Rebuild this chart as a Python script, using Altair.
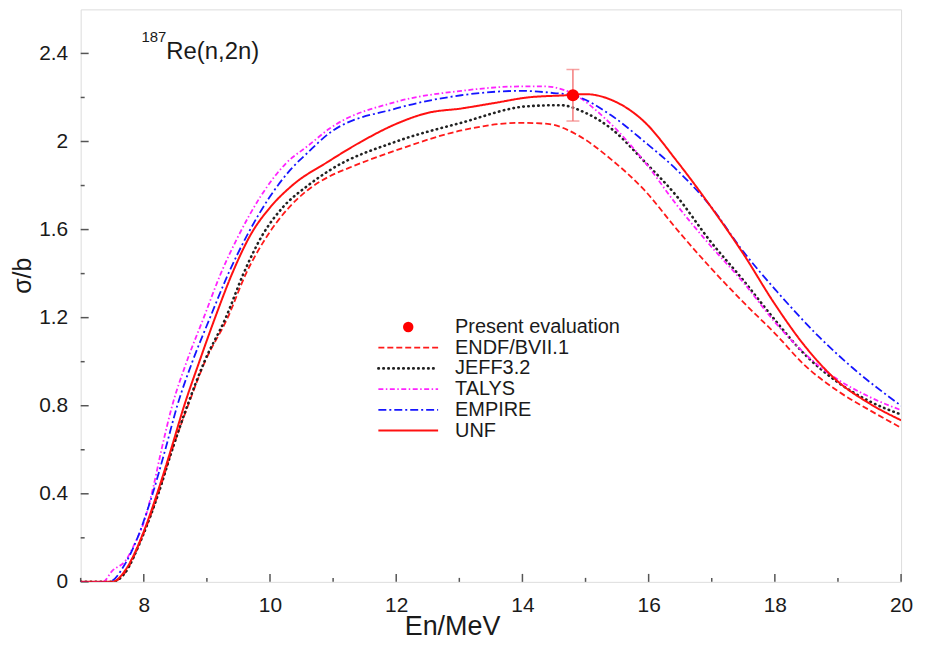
import altair as alt
import pandas as pd

# ---------------- data ----------------
E_ENDF = [7.0, 7.5, 7.7, 7.97, 8.23, 8.45, 8.7, 8.97, 9.33, 9.62, 9.93, 10.3, 10.6, 10.93, 11.25, 12.0, 13.03, 13.97, 14.4, 14.87, 15.4, 15.93, 16.45, 16.97, 17.5, 18.03, 18.45, 18.98, 19.5, 20.0]
S_ENDF = [0.0, 0.0, 0.04, 0.2, 0.4, 0.6, 0.8, 1.0, 1.2, 1.4, 1.56, 1.70, 1.78, 1.84, 1.88, 1.96, 2.05, 2.085, 2.08, 2.03, 1.92, 1.78, 1.60, 1.43, 1.27, 1.12, 0.99, 0.87, 0.78, 0.70]

E_JEFF = [7.0, 7.5, 7.7, 7.97, 8.23, 8.45, 8.69, 8.96, 9.3, 9.58, 9.87, 10.2, 10.6, 10.95, 12.0, 13.03, 14.08, 14.6, 15.0, 15.4, 15.93, 16.45, 16.97, 17.5, 18.0, 18.45, 18.98, 19.5, 20.0]
S_JEFF = [0.0, 0.0, 0.04, 0.2, 0.4, 0.6, 0.8, 1.0, 1.2, 1.4, 1.57, 1.70, 1.80, 1.87, 2.0, 2.085, 2.16, 2.165, 2.13, 2.06, 1.91, 1.75, 1.55, 1.37, 1.19, 1.04, 0.91, 0.82, 0.76]

E_TALYS = [7.0, 7.35, 7.5, 7.72, 7.85, 8.0, 8.15, 8.28, 8.45, 8.68, 8.95, 9.22, 9.48, 9.85, 10.25, 10.6, 10.95, 12.0, 13.03, 13.97, 14.35, 14.7, 15.4, 15.93, 16.45, 16.97, 17.5, 18.0, 18.7, 19.5, 20.0]
S_TALYS = [0.0, 0.0, 0.05, 0.10, 0.17, 0.27, 0.43, 0.6, 0.8, 1.0, 1.2, 1.4, 1.56, 1.75, 1.90, 1.98, 2.06, 2.18, 2.23, 2.25, 2.25, 2.23, 2.08, 1.91, 1.71, 1.53, 1.36, 1.18, 0.98, 0.84, 0.78]

E_EMPIRE = [7.0, 7.45, 7.7, 7.9, 8.14, 8.34, 8.53, 8.77, 9.05, 9.34, 9.63, 10.0, 10.35, 10.6, 10.95, 12.0, 13.03, 13.97, 14.5, 14.8, 15.4, 15.93, 16.45, 16.97, 17.5, 18.03, 18.71, 19.24, 20.0]
S_EMPIRE = [0.0, 0.0, 0.08, 0.2, 0.4, 0.6, 0.8, 1.0, 1.2, 1.4, 1.57, 1.75, 1.88, 1.95, 2.04, 2.15, 2.21, 2.23, 2.22, 2.21, 2.12, 2.0, 1.87, 1.71, 1.50, 1.32, 1.11, 0.97, 0.80]

E_UNF = [7.0, 7.5, 7.7, 7.96, 8.21, 8.43, 8.64, 8.88, 9.13, 9.4, 9.7, 10.0, 10.35, 10.93, 11.45, 12.0, 12.5, 13.03, 13.56, 14.08, 14.7, 15.0, 15.4, 15.93, 16.45, 16.97, 17.5, 17.98, 18.45, 18.98, 19.5, 20.0]
S_UNF = [0.0, 0.0, 0.05, 0.2, 0.4, 0.6, 0.8, 1.0, 1.2, 1.4, 1.58, 1.70, 1.80, 1.91, 2.0, 2.08, 2.13, 2.15, 2.175, 2.2, 2.21, 2.215, 2.19, 2.09, 1.91, 1.71, 1.49, 1.27, 1.08, 0.915, 0.81, 0.734]

EVAL_E = [14.8]
EVAL_S = [2.21]
EVAL_ERR = [0.117]

SERIES = ["ENDF/BVII.1", "JEFF3.2", "TALYS", "EMPIRE", "UNF"]
LEGEND_POINT = "Present evaluation"
ANNOT_SUP = "187"
ANNOT_MAIN = "Re(n,2n)"

X_MAJOR = [8, 10, 12, 14, 16, 18, 20]
X_MINOR = [7, 9, 11, 13, 15, 17, 19]
Y_MAJOR = [0, 0.4, 0.8, 1.2, 1.6, 2.0, 2.4]
Y_MINOR = [0.2, 0.6, 1.0, 1.4, 1.8, 2.2]

# ---------------- styles ----------------
STYLE = {
    "ENDF/BVII.1": dict(color="#ff1a1a", dash=[6, 3], width=1.8, cap="butt"),
    "JEFF3.2": dict(color="#222222", dash=[0.5, 4.5], width=2.6, cap="round"),
    "TALYS": dict(color="#ff22ff", dash=[5, 2.5, 1.5, 2.5], width=1.8, cap="butt"),
    "EMPIRE": dict(color="#1515ff", dash=[8, 3, 2, 3], width=1.8, cap="butt"),
    "UNF": dict(color="#ff1010", dash=[1, 0], width=2.0, cap="butt"),
}
DATA = {
    "ENDF/BVII.1": (E_ENDF, S_ENDF),
    "JEFF3.2": (E_JEFF, S_JEFF),
    "TALYS": (E_TALYS, S_TALYS),
    "EMPIRE": (E_EMPIRE, S_EMPIRE),
    "UNF": (E_UNF, S_UNF),
}

W, H = 824, 575
FONT = "Liberation Sans"
TXT = "#1a1a1a"

xs = alt.Scale(domain=[7, 20], nice=False, zero=False)
ys = alt.Scale(domain=[0, 2.6], nice=False, zero=False)

x_axis = alt.Axis(values=X_MAJOR, ticks=False, domain=False, grid=False, format="~g",
                  labelFontSize=21, labelPadding=13, labelFont=FONT, labelColor=TXT,
                  title="En/MeV", titleFontSize=27, titleFont=FONT, titleFontWeight="normal",
                  titleColor=TXT, titleX=373, titleY=53, titleAlign="center",
                  titleBaseline="alphabetic", labelFlush=False)
y_axis = alt.Axis(values=Y_MAJOR, ticks=False, domain=False, grid=False, format="~g",
                  labelFontSize=21, labelPadding=13, labelFont=FONT, labelColor=TXT,
                  title="σ/b", titleFontSize=25, titleFont=FONT, titleFontWeight="normal",
                  titleColor=TXT, titleX=-58, titleY=267, titleAlign="center",
                  titleBaseline="middle", labelFlush=False)

layers = []

# base (carries axes)
base_df = pd.DataFrame({"E": E_UNF, "sigma": S_UNF})
layers.append(
    alt.Chart(base_df).mark_point(opacity=0).encode(
        x=alt.X("E:Q", scale=xs, axis=x_axis),
        y=alt.Y("sigma:Q", scale=ys, axis=y_axis),
    )
)

# ticks (inward)
tx_major = pd.DataFrame({"v": X_MAJOR})
tx_minor = pd.DataFrame({"v": X_MINOR})
ty_major = pd.DataFrame({"v": Y_MAJOR})
ty_minor = pd.DataFrame({"v": Y_MINOR})
tick_col = "#555555"
layers.append(alt.Chart(tx_major).mark_rule(color=tick_col, strokeWidth=1.5).encode(
    x=alt.X("v:Q", scale=xs), y=alt.value(H), y2=alt.value(H - 8)))
layers.append(alt.Chart(tx_minor).mark_rule(color=tick_col, strokeWidth=1.5).encode(
    x=alt.X("v:Q", scale=xs), y=alt.value(H), y2=alt.value(H - 4)))
layers.append(alt.Chart(ty_major).mark_rule(color=tick_col, strokeWidth=1.5).encode(
    y=alt.Y("v:Q", scale=ys), x=alt.value(0), x2=alt.value(8)))
layers.append(alt.Chart(ty_minor).mark_rule(color=tick_col, strokeWidth=1.5).encode(
    y=alt.Y("v:Q", scale=ys), x=alt.value(0), x2=alt.value(4)))

# curves
for name in SERIES:
    E, S = DATA[name]
    st = STYLE[name]
    d = pd.DataFrame({"E": E, "sigma": S})
    layers.append(
        alt.Chart(d).mark_line(interpolate="monotone", color=st["color"], strokeCap=st["cap"],
                               strokeDash=st["dash"], strokeWidth=st["width"], clip=True).encode(
            x=alt.X("E:Q", scale=xs), y=alt.Y("sigma:Q", scale=ys))
    )

# evaluated point with error bar
ev = pd.DataFrame({"E": EVAL_E, "sigma": EVAL_S,
                   "lo": [s - e for s, e in zip(EVAL_S, EVAL_ERR)],
                   "hi": [s + e for s, e in zip(EVAL_S, EVAL_ERR)]})
err_col = "#f47c7c"
layers.append(alt.Chart(ev).mark_rule(color=err_col, strokeWidth=1.5).encode(
    x=alt.X("E:Q", scale=xs), y=alt.Y("lo:Q", scale=ys), y2="hi:Q"))
layers.append(alt.Chart(ev).mark_tick(color=err_col, orient="horizontal", size=13, thickness=1.5).encode(
    x=alt.X("E:Q", scale=xs), y=alt.Y("lo:Q", scale=ys)))
layers.append(alt.Chart(ev).mark_tick(color=err_col, orient="horizontal", size=13, thickness=1.5).encode(
    x=alt.X("E:Q", scale=xs), y=alt.Y("hi:Q", scale=ys)))
layers.append(alt.Chart(ev).mark_circle(color="#ff0000", size=150, opacity=1).encode(
    x=alt.X("E:Q", scale=xs), y=alt.Y("sigma:Q", scale=ys)))

# legend (manual)
LX0, LX1, LTX = 299, 359, 376
ROW0, ROWSTEP = 319, 20.8
one = pd.DataFrame({"t": [LEGEND_POINT]})
layers.append(alt.Chart(one).mark_circle(color="#ff0000", size=110, opacity=1).encode(
    x=alt.value((LX0 + LX1) / 2), y=alt.value(ROW0)))
layers.append(alt.Chart(one).mark_text(align="left", baseline="middle", font=FONT, fontSize=20,
                                       color=TXT).encode(
    text="t:N", x=alt.value(LTX), y=alt.value(ROW0)))
for i, name in enumerate(SERIES):
    st = STYLE[name]
    yrow = ROW0 + ROWSTEP * (i + 1)
    dd = pd.DataFrame({"t": [name]})
    layers.append(alt.Chart(dd).mark_rule(color=st["color"], strokeDash=st["dash"], strokeCap=st["cap"],
                                          strokeWidth=st["width"]).encode(
        x=alt.value(LX0), x2=alt.value(LX1), y=alt.value(yrow)))
    layers.append(alt.Chart(dd).mark_text(align="left", baseline="middle", font=FONT, fontSize=20,
                                          color=TXT).encode(
        text="t:N", x=alt.value(LTX), y=alt.value(yrow)))

# annotation 187Re(n,2n)
sup = pd.DataFrame({"t": [ANNOT_SUP]})
mn = pd.DataFrame({"t": [ANNOT_MAIN]})
layers.append(alt.Chart(sup).mark_text(align="left", baseline="alphabetic", font=FONT, fontSize=15,
                                       color=TXT).encode(
    text="t:N", x=alt.value(61), y=alt.value(33)))
layers.append(alt.Chart(mn).mark_text(align="left", baseline="alphabetic", font=FONT, fontSize=24,
                                      color=TXT).encode(
    text="t:N", x=alt.value(86), y=alt.value(50)))

chart = alt.layer(*layers).properties(
    width=W, height=H,
    autosize=alt.AutoSizeParams(type="none"),
    padding={"left": 73, "top": 0, "right": 16, "bottom": 58},
).configure_view(stroke="#555555", strokeWidth=2).configure(background="white")

chart.save("out.html", embed_options={"renderer": "svg", "actions": False})
